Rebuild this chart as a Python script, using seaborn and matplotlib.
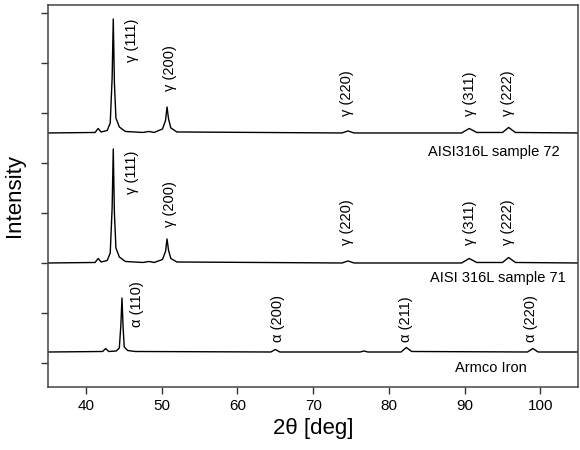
import numpy as np
import pandas as pd
import matplotlib
matplotlib.use("Agg")
import matplotlib.pyplot as plt
import seaborn as sns

# 2theta positions (shared grid)
two_theta_gamma = [35.0, 41.2, 41.6, 42.0, 42.8, 43.2, 43.45, 43.6, 43.75, 43.95,
                   44.4, 45.2, 47.5, 48.3, 49.0, 50.1, 50.5, 50.7, 50.9, 51.2,
                   52.0, 73.8, 74.6, 75.4, 89.6, 90.6, 91.6, 95.0, 95.8, 96.7, 105.0]

# stacked intensities (offset already included, as drawn in the figure)
intensity_72 = [4.60, 4.61, 4.69, 4.62, 4.65, 4.80, 5.70, 6.88, 5.60, 4.90,
                4.72, 4.63, 4.61, 4.63, 4.61, 4.68, 4.85, 5.12, 4.88, 4.70,
                4.62, 4.60, 4.64, 4.60, 4.60, 4.69, 4.61, 4.61, 4.71, 4.61, 4.60]

intensity_71 = [2.00, 2.01, 2.09, 2.02, 2.05, 2.20, 3.10, 4.28, 3.00, 2.30,
                2.12, 2.03, 2.01, 2.03, 2.01, 2.07, 2.23, 2.48, 2.25, 2.09,
                2.02, 2.00, 2.04, 2.00, 2.00, 2.09, 2.01, 2.01, 2.11, 2.01, 2.00]

two_theta_armco = [35.0, 42.2, 42.6, 43.0, 44.0, 44.4, 44.6, 44.75, 44.9, 45.05,
                   45.5, 46.5, 64.4, 65.0, 65.6, 76.2, 76.7, 77.2, 81.6, 82.3,
                   83.0, 98.3, 99.0, 99.7, 105.0]
intensity_armco = [0.22, 0.23, 0.29, 0.23, 0.24, 0.30, 0.75, 1.30, 0.70, 0.32,
                   0.25, 0.23, 0.22, 0.27, 0.22, 0.22, 0.24, 0.22, 0.22, 0.31,
                   0.23, 0.22, 0.29, 0.22, 0.22]

# peak labels: text, 2theta, y where the label starts
peak_labels = ["γ (111)", "γ (200)", "γ (220)", "γ (311)", "γ (222)",
               "γ (111)", "γ (200)", "γ (220)", "γ (311)", "γ (222)",
               "α (110)", "α (200)", "α (211)", "α (220)"]
peak_x = [46.05, 51.05, 74.5, 90.7, 95.7,
          46.05, 51.05, 74.5, 90.7, 95.7,
          46.7, 65.4, 82.2, 98.7]
peak_y = [6.01, 5.43, 4.93, 4.93, 4.93,
          3.37, 2.71, 2.36, 2.36, 2.36,
          0.72, 0.42, 0.42, 0.42]

sample_names = ["AISI316L sample 72", "AISI 316L sample 71", "Armco Iron"]
sample_x = [102.6, 103.3, 98.2]
sample_y = [4.21, 1.70, -0.10]

sns.set_theme(style="ticks")
plt.rcParams["font.family"] = ["Liberation Sans", "DejaVu Sans"]
plt.rcParams["text.color"] = "black"
plt.rcParams["axes.labelcolor"] = "black"

fig = plt.figure(figsize=(5.8, 4.5), dpi=100)
ax = fig.add_axes([0.083, 0.14, 0.914, 0.849])

curves = [(two_theta_gamma, intensity_72),
          (two_theta_gamma, intensity_71),
          (two_theta_armco, intensity_armco)]
for xs, ys in curves:
    sns.lineplot(x=xs, y=ys, ax=ax, color="black", linewidth=1.0,
                 sort=False, estimator=None)

for txt, x, y in zip(peak_labels, peak_x, peak_y):
    ax.text(x, y, txt, rotation=90, ha="center", va="bottom", fontsize=10.5)

for txt, x, y in zip(sample_names, sample_x, sample_y):
    ax.text(x, y, txt, ha="right", va="center", fontsize=10.5)

ax.set_xlim(35, 105)
ax.set_ylim(-0.48, 7.16)
ax.set_xticks(range(40, 101, 10))
ax.set_yticks(range(0, 8))
ax.set_yticklabels([])
ax.tick_params(axis="both", direction="out", length=5, width=1, colors="#333333",
               labelsize=11, labelcolor="black")
for sp in ax.spines.values():
    sp.set_visible(True)
    sp.set_color("#444444")
    sp.set_linewidth(1.1)

ax.set_xlabel("2θ [deg]", fontsize=16, labelpad=4)
ax.set_ylabel("Intensity", fontsize=16, labelpad=8)

fig.savefig("out.png", dpi=100)
